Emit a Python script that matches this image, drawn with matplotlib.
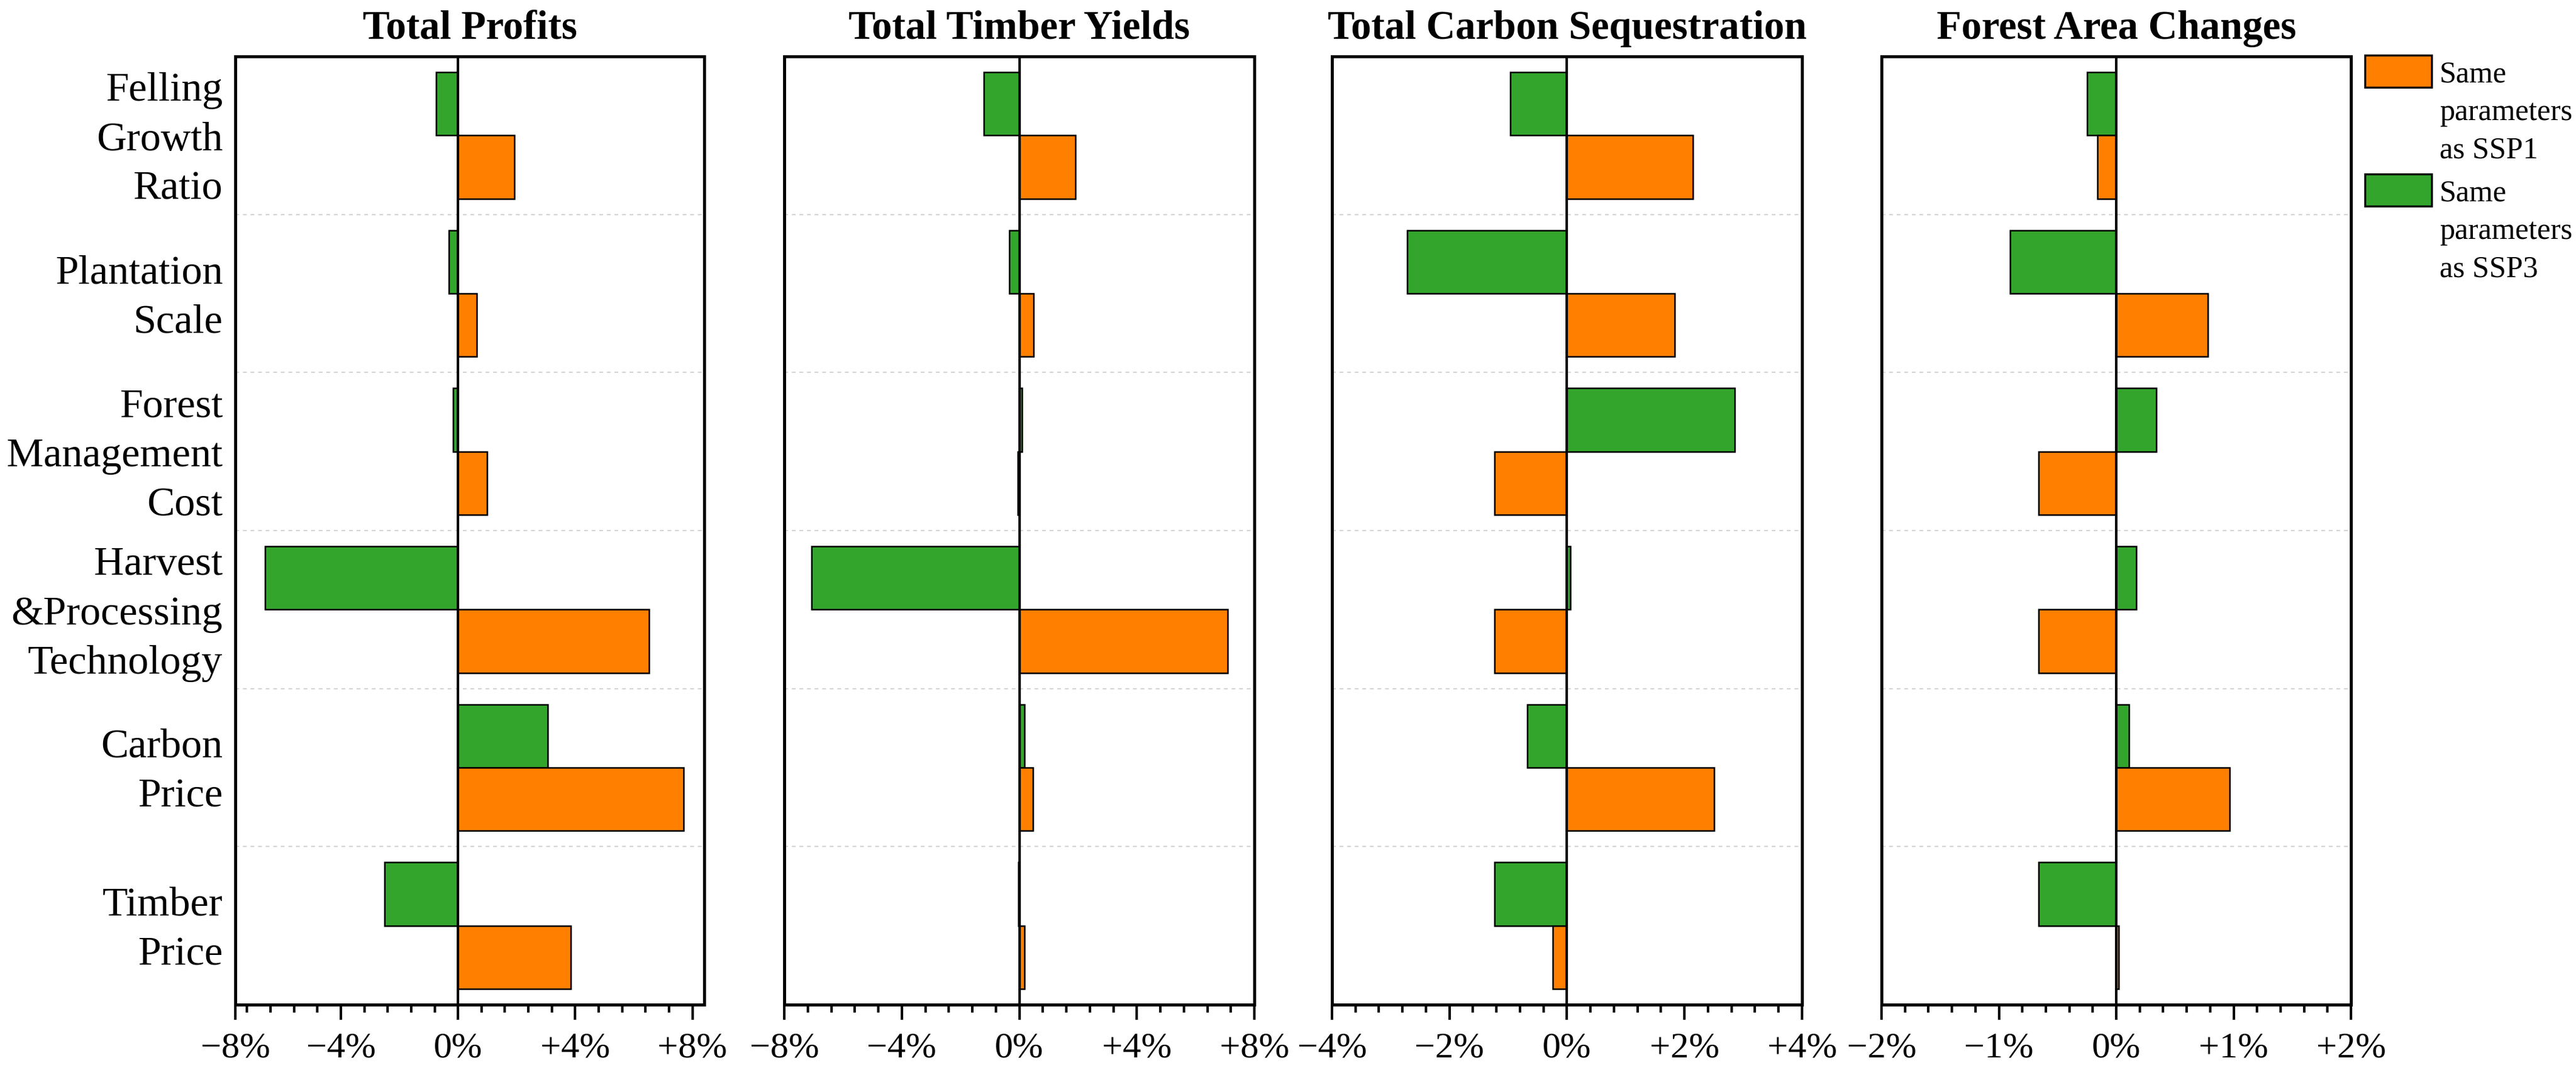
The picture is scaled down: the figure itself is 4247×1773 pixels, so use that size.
import numpy as np
import matplotlib
matplotlib.use("Agg")
import matplotlib.pyplot as plt
from matplotlib.patches import Rectangle
from matplotlib.ticker import MultipleLocator, FixedLocator, FuncFormatter

plt.rcParams['font.family'] = ['Liberation Serif', 'DejaVu Serif']

# ---------------------------------------------------------------
# data (% change), one value per parameter group
# ---------------------------------------------------------------
categories = ["Felling\nGrowth\nRatio", "Plantation\nScale", "Forest\nManagement\nCost",
              "Harvest\n&Processing\nTechnology", "Carbon\nPrice", "Timber\nPrice"]

titles = ["Total Profits", "Total Timber Yields", "Total Carbon Sequestration", "Forest Area Changes"]

profits_ssp1 = [1.93, 0.64, 0.99, 6.52, 7.69, 3.85]
profits_ssp3 = [-0.75, -0.31, -0.17, -6.58, 3.05, -2.50]

timber_ssp1 = [1.90, 0.48, -0.05, 7.10, 0.46, 0.18]
timber_ssp3 = [-1.20, -0.35, 0.10, -7.07, 0.18, -0.03]

carbon_ssp1 = [2.14, 1.83, -1.23, -1.23, 2.50, -0.24]
carbon_ssp3 = [-0.96, -2.72, 2.85, 0.06, -0.68, -1.23]

area_ssp1 = [-0.16, 0.78, -0.66, -0.66, 0.965, 0.02]
area_ssp3 = [-0.25, -0.905, 0.34, 0.17, 0.11, -0.66]

ssp1_label = "Same\nparameters\nas SSP1"
ssp3_label = "Same\nparameters\nas SSP3"

ORANGE = '#FF7F00'
GREEN = '#33A52C'

# (ssp1, ssp3, xlim, major ticks, tick labels, minor step)
panels = [
    (profits_ssp1, profits_ssp3, (-7.6, 8.4), [-7.6, -4, 0, 4, 8], ["\u22128%", "\u22124%", "0%", "+4%", "+8%"], 0.8),
    (timber_ssp1, timber_ssp3, (-8, 8), [-8, -4, 0, 4, 8], None, 0.8),
    (carbon_ssp1, carbon_ssp3, (-4, 4), [-4, -2, 0, 2, 4], None, 0.4),
    (area_ssp1, area_ssp3, (-2, 2), [-2, -1, 0, 1, 2], None, 0.2),
]


def pct_fmt(v, pos):
    if abs(v) < 1e-9:
        return "0%"
    sign = "+" if v > 0 else "\u2212"
    return f"{sign}{abs(v):g}%"


W, H = 4247, 1773
fig = plt.figure(figsize=(W / 300, H / 300), dpi=300)

lefts = [388, 1293, 2196, 3102]
widths = [773, 775, 775, 774]
top_px, bottom_px = 93, 1657

n = len(categories)
idx = np.arange(n)

for k, (s1, s3, xlim, majors, labels, minor) in enumerate(panels):
    ax = fig.add_axes([lefts[k] / W, 1 - bottom_px / H, widths[k] / W, (bottom_px - top_px) / H])

    ax.barh(idx + 0.3, s3, height=0.4, color=GREEN, edgecolor='black', linewidth=0.6, zorder=2)
    ax.barh(idx + 0.7, s1, height=0.4, color=ORANGE, edgecolor='black', linewidth=0.6, zorder=2)
    ax.axvline(0, color='black', linewidth=1.0, zorder=3)

    # dashed separators between groups
    for y in range(1, n):
        ax.axhline(y, color='#d4d4d4', linestyle=(0, (3, 3)), linewidth=0.5, zorder=1)

    ax.set_ylim(n, 0)
    ax.set_xlim(*xlim)
    ax.xaxis.set_major_locator(FixedLocator(majors))
    ax.xaxis.set_minor_locator(MultipleLocator(minor))
    if labels is None:
        ax.xaxis.set_major_formatter(FuncFormatter(pct_fmt))
    else:
        ax.set_xticklabels(labels)
    ax.tick_params(axis='x', which='major', length=6, width=1.0, labelsize=14.5, pad=5, direction='out')
    ax.tick_params(axis='x', which='minor', length=3, width=1.0, direction='out')

    if k == 0:
        # labels sit a touch below the group centre, as in the original
        ax.set_yticks(idx + 0.53)
        ax.set_yticklabels(categories, fontsize=16.4, linespacing=1.43)
        for lab in ax.get_yticklabels():
            lab.set_verticalalignment('center')
        ax.tick_params(axis='y', length=0, pad=5)
    else:
        ax.set_yticks([])

    for sp in ax.spines.values():
        sp.set_linewidth(1.2)

    ax.set_title(titles[k], fontsize=16, fontweight='bold', pad=7)

# legend drawn by hand so the swatch sits beside the first line of the label
for y_top, color, label in [(91, ORANGE, ssp1_label), (287, GREEN, ssp3_label)]:
    fig.add_artist(Rectangle((3899 / W, 1 - (y_top + 53) / H), 110 / W, 53 / H,
                             transform=fig.transFigure, facecolor=color,
                             edgecolor='black', linewidth=0.8))
    fig.text(4022 / W, 1 - (y_top + 9) / H, label, fontsize=12,
             va='top', ha='left', linespacing=1.45)

fig.savefig("out.png", dpi=300)
